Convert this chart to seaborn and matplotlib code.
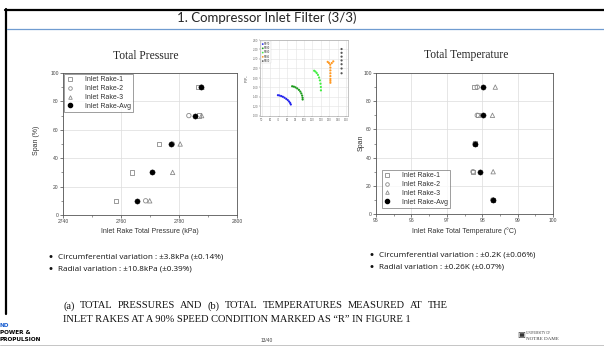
import numpy as np
import pandas as pd
import matplotlib
matplotlib.use("Agg")
import matplotlib.pyplot as plt
import seaborn as sns
from matplotlib.lines import Line2D
from matplotlib.ticker import MultipleLocator

# ---------------- data ----------------
span = [10, 30, 50, 70, 90]
rake_labels = ["Inlet Rake-1", "Inlet Rake-2", "Inlet Rake-3", "Inlet Rake-Avg"]

p_rake1 = [2758.2, 2763.7, 2773.2, 2786.9, 2786.7]
p_rake2 = [2768.5, 2770.9, 2777.7, 2783.4, 2787.7]
p_rake3 = [2769.9, 2777.8, 2780.4, 2787.8, 2787.9]
p_avg = [2765.4, 2770.8, 2777.1, 2785.6, 2787.5]

t_rake1 = [98.30, 97.74, 97.80, 97.88, 97.78]
t_rake2 = [98.30, 97.74, 97.80, 97.86, 97.86]
t_rake3 = [98.32, 98.31, 97.80, 98.29, 98.37]
t_avg = [98.31, 97.93, 97.80, 98.01, 98.01]

# inset (performance map thumbnail)
inset_labels = ["N070", "N080", "N090", "N095", "N100"]
ins_blue_x = [69.2, 71.0, 73.0, 75.0, 77.0, 79.0, 80.8, 82.4, 83.6, 84.4]
ins_blue_y = [1.438, 1.432, 1.420, 1.405, 1.385, 1.360, 1.335, 1.305, 1.275, 1.243]
ins_dgreen_x = [86.0, 88.0, 90.0, 92.0, 94.0, 95.6, 96.8, 97.8, 98.3, 98.4]
ins_dgreen_y = [1.626, 1.618, 1.602, 1.580, 1.550, 1.515, 1.475, 1.430, 1.385, 1.348]
ins_lgreen_x = [112.0, 113.5, 115.0, 116.5, 117.8, 118.8, 119.5, 119.9, 120.0]
ins_lgreen_y = [1.953, 1.935, 1.905, 1.865, 1.810, 1.750, 1.680, 1.610, 1.540]
ins_orange_x = [128.0, 129.5, 131.0, 132.8, 134.6, 131.2, 131.2, 131.2, 131.2, 131.2, 131.2, 131.2]
ins_orange_y = [2.140, 2.115, 2.080, 2.115, 2.150, 2.020, 1.960, 1.900, 1.840, 1.780, 1.740, 1.700]
ins_grey_x = [144.4, 144.4, 144.4, 144.4, 144.4, 144.4, 144.4]
ins_grey_y = [2.410, 2.330, 2.250, 2.170, 2.090, 2.000, 1.900]

# ---------------- style ----------------
sns.set_style("white")
plt.rcParams["font.family"] = ["Liberation Sans", "DejaVu Sans"]

W, H = 604, 346
fig = plt.figure(figsize=(W / 100, H / 100), dpi=100)


def fx(x):
    return x / W


def fy(y):
    return 1 - y / H


def box(x0, y0, x1, y1):
    return [fx(x0), fy(y1), fx(x1) - fx(x0), fy(y0) - fy(y1)]


GREY = "#8a8a8a"
open_markers = ["s", "o", "^"]


def rake_panel(ax, xs_list, xlim, xmajor, xminor, xlabel, legend_loc, legend_anchor):
    for xs, m in zip(xs_list[:3], open_markers):
        df = pd.DataFrame({"x": xs, "span": span})
        sns.scatterplot(data=df, x="x", y="span", ax=ax, marker=m, s=10,
                        facecolor="none", edgecolor=GREY, linewidth=0.6, zorder=3)
    df = pd.DataFrame({"x": xs_list[3], "span": span})
    sns.scatterplot(data=df, x="x", y="span", ax=ax, marker="o", s=14,
                    color="black", edgecolor="black", linewidth=0.3, zorder=4)
    ax.set_xlim(*xlim)
    ax.set_ylim(0, 100)
    ax.xaxis.set_major_locator(MultipleLocator(xmajor))
    ax.xaxis.set_minor_locator(MultipleLocator(xminor))
    ax.yaxis.set_major_locator(MultipleLocator(20))
    ax.yaxis.set_minor_locator(MultipleLocator(10))
    ax.grid(True, which="major", color="#dcdcdc", linewidth=0.5)
    ax.tick_params(which="major", length=2, width=0.5, labelsize=3.6, pad=1,
                   colors="#444444", bottom=True, left=True)
    ax.tick_params(which="minor", length=1.2, width=0.4, bottom=True, left=True, colors="#444444")
    for s in ax.spines.values():
        s.set_color("#555555")
        s.set_linewidth(0.6)
    ax.set_xlabel(xlabel, fontsize=5, color="#333333", labelpad=3)
    ax.set_ylabel("")
    handles = [Line2D([], [], ls="none", marker=m, ms=2.6, mfc="none", mec=GREY, mew=0.6)
               for m in open_markers]
    handles.append(Line2D([], [], ls="none", marker="o", ms=3.0, mfc="black", mec="black"))
    leg = ax.legend(handles, rake_labels, loc=legend_loc, bbox_to_anchor=legend_anchor,
                    fontsize=5, frameon=True, fancybox=False, handletextpad=1.6,
                    borderpad=0.3, labelspacing=0.25, handlelength=1.0, borderaxespad=0.2)
    leg.get_frame().set_edgecolor("#555555")
    leg.get_frame().set_linewidth(0.5)
    for t in leg.get_texts():
        t.set_color("#333333")


# left panel: pressure
axp = fig.add_axes(box(63, 73, 237, 215))
rake_panel(axp, [p_rake1, p_rake2, p_rake3, p_avg], (2740, 2800), 20, 10,
           "Inlet Rake Total Pressure (kPa)", "upper left", None)
fig.text(fx(37), fy(140), "Span (%)", rotation=90, ha="center", va="center", fontsize=5, color="#333333")
fig.text(fx(146), fy(56), "Total Pressure", ha="center", va="center", fontsize=8.3,
         family=["Liberation Serif"])

# right panel: temperature
axt = fig.add_axes(box(376, 73, 553, 214))
rake_panel(axt, [t_rake1, t_rake2, t_rake3, t_avg], (95, 100), 1, 0.5,
           "Inlet Rake Total Temperature (°C)", "lower left", (0.025, 0.035))
fig.text(fx(361), fy(143), "Span", rotation=90, ha="center", va="center", fontsize=5, color="#333333")
fig.text(fx(466), fy(55), "Total Temperature", ha="center", va="center", fontsize=8.3,
         family=["Liberation Serif"])

# inset thumbnail
axi = fig.add_axes(box(260, 40, 348, 116))
ins = [(ins_blue_x, ins_blue_y, "#2222ee"), (ins_dgreen_x, ins_dgreen_y, "#1a9a1a"),
       (ins_lgreen_x, ins_lgreen_y, "#44ee44"), (ins_orange_x, ins_orange_y, "#ff9922"),
       (ins_grey_x, ins_grey_y, "#555555")]
for (xx, yy, c), lab in zip(ins, inset_labels):
    sns.scatterplot(x=xx, y=yy, ax=axi, s=2.5, color=c, edgecolor="none", label=lab)
axi.set_xlim(48, 152)
axi.set_ylim(1.0, 2.6)
axi.xaxis.set_major_locator(MultipleLocator(10))
axi.yaxis.set_major_locator(MultipleLocator(0.2))
axi.yaxis.set_major_formatter(matplotlib.ticker.FormatStrFormatter("%.2f"))
axi.grid(True, color="#e4e4e4", linewidth=0.4)
axi.tick_params(length=1, width=0.3, labelsize=2, pad=0.5, colors="#666666", bottom=True, left=True)
for s in axi.spines.values():
    s.set_color("#999999")
    s.set_linewidth(0.4)
axi.set_ylabel("P/P$_0$", fontsize=2.5, labelpad=1, color="#555555")
axi.set_xlabel("")
lg = axi.legend(loc="upper left", fontsize=1.8, markerscale=0.8, frameon=True, fancybox=False,
                borderpad=0.2, labelspacing=0.1, handletextpad=0.2, handlelength=0.8)
lg.get_frame().set_linewidth(0.3)

# slide decoration
fig.add_artist(Line2D([fx(5), 1], [fy(9.5), fy(9.5)], color="black", lw=1.6, transform=fig.transFigure))
fig.add_artist(Line2D([fx(6), fx(6)], [fy(9), fy(314)], color="black", lw=1.6, transform=fig.transFigure))
fig.add_artist(Line2D([fx(7), 1], [fy(28.5), fy(28.5)], color="#6f9bd0", lw=0.9, transform=fig.transFigure))
fig.add_artist(Line2D([0, 1], [fy(345.3), fy(345.3)], color="#bbbbbb", lw=0.6, transform=fig.transFigure))

fig.text(fx(267), fy(18), "1. Compressor Inlet Filter (3/3)", ha="center", va="center",
         fontsize=9.5, family=["Lato", "DejaVu Sans"])

bul_font = dict(fontsize=5.9, family=["Open Sans", "DejaVu Sans"], color="#111111", va="center")
dot_font = dict(fontsize=7.5, family=["DejaVu Sans"], color="#111111", va="center", ha="center")
for xb, xt, yb, txt in [(50, 58, 256.5, "Circumferential variation : ±3.8kPa (±0.14%)"),
                        (50, 58, 269, "Radial variation : ±10.8kPa (±0.39%)"),
                        (372, 379, 255, "Circumferential variation : ±0.2K (±0.06%)"),
                        (372, 379, 267.5, "Radial variation : ±0.26K (±0.07%)")]:
    fig.text(fx(xb), fy(yb), "•", **dot_font)
    fig.text(fx(xt), fy(yb), txt, **bul_font)

# caption (first line justified, last line natural)
cap_font = dict(fontsize=7.5, family=["Liberation Serif"], color="#111111", va="center", ha="left")
renderer = fig.canvas.get_renderer()


def spread(line, y, x_left, x_right):
    words = line.split()
    texts = [fig.text(0, fy(y), w, **cap_font) for w in words]
    widths = [t.get_window_extent(renderer).width for t in texts]
    gap = (x_right - x_left - sum(widths)) / (len(widths) - 1)
    xc = x_left
    for t, w in zip(texts, widths):
        t.set_x(fx(xc))
        xc += w + gap


spread("(a) TOTAL PRESSURES AND (b) TOTAL TEMPERATURES MEASURED AT THE", 306, 63, 448)
fig.text(fx(63), fy(319), "INLET RAKES AT A 90% SPEED CONDITION MARKED AS \u201cR\u201d IN FIGURE 1", **cap_font)

# footer
fig.text(fx(267), fy(341), "13/40", ha="center", va="center", fontsize=3.5, color="#444444")
logo = dict(fontsize=4.6, fontweight="bold", ha="left", va="center", fontstretch="condensed",
            family=["DejaVu Sans"])
fig.text(fx(0), fy(325.5), "ND", color="#1a5fd0", **logo)
fig.text(fx(0), fy(332.5), "POWER &", color="black", **logo)
fig.text(fx(0), fy(339.5), "PROPULSION", color="black", **logo)
fig.text(fx(521), fy(336), "\u25a3", fontsize=6, color="#333333", ha="center", va="center")
fig.text(fx(526), fy(333.5), "UNIVERSITY OF", fontsize=2.3, color="#333333", ha="left", va="center",
         family=["Liberation Serif"])
fig.text(fx(526), fy(338.5), "NOTRE DAME", fontsize=3.6, color="#333333", ha="left", va="center",
         family=["Liberation Serif"])

fig.savefig("out.png", dpi=100)
